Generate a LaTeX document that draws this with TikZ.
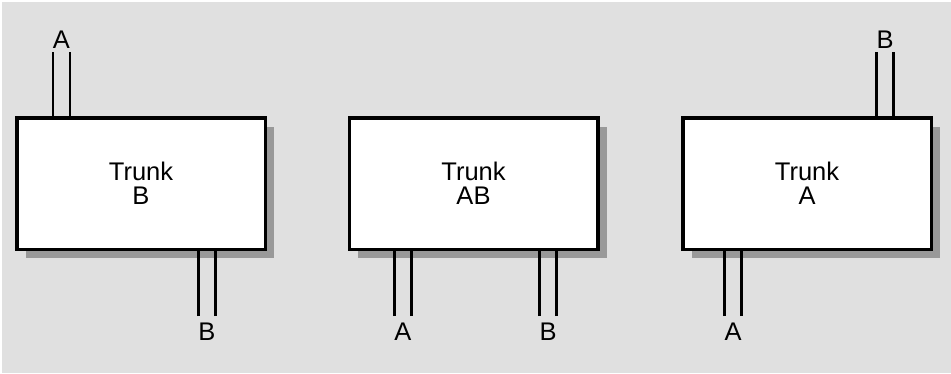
\documentclass[tikz,border=0pt]{standalone}
\usepackage{fontspec}
\setmainfont{Liberation Sans}
\usetikzlibrary{calc,shadows}
\definecolor{bggray}{HTML}{E0E0E0}
\definecolor{shadowgray}{HTML}{999999}
\begin{document}
\begin{tikzpicture}[x=1pt,y=-1pt,
  trunk/.style={draw=black, line width=3.5pt, fill=white,
    minimum width=248.5pt, minimum height=131.5pt, inner sep=0pt,
    align=center, font=\fontsize{25.5}{23.5}\selectfont,
    drop shadow={shadow xshift=9pt, shadow yshift=-9pt, fill=shadowgray, opacity=1}},
  lbl/.style={font=\fontsize{25.5}{30}\selectfont, inner sep=0pt, anchor=base},
  wire/.style={line width=2.5pt}]
\useasboundingbox (0,0) rectangle (951,373);
\fill[bggray] (1.5,1.5) rectangle (951,373);

% box centres
\coordinate (c1) at (141,183.5);
\coordinate (c2) at (473.5,183.5);
\coordinate (c3) at (807,183.5);

% labels
\node[lbl] (lA1) at (61.5,48.3) {A};
\node[lbl] (lB1) at (207,340) {B};
\node[lbl] (lA2) at (403,340) {A};
\node[lbl] (lB2) at (548,340) {B};
\node[lbl] (lB3) at (885,48.3) {B};
\node[lbl] (lA3) at (733,340) {A};

% wire end points near labels
\coordinate (w1) at (61.5,52);
\coordinate (w2) at (207,316);
\coordinate (w3) at (403,316);
\coordinate (w4) at (548,316);
\coordinate (w5) at (885,52);
\coordinate (w6) at (733,316);

\node[trunk] (b1) at (c1) {Trunk\\B};
\node[trunk] (b2) at (c2) {Trunk\\AB};
\node[trunk] (b3) at (c3) {Trunk\\A};

\foreach \w/\b/\s in {w1/b1/north, w2/b1/south, w3/b2/south, w4/b2/south, w5/b3/north, w6/b3/south}{
  \draw[wire] ($(\w)+(-8.3,0)$) -- ($(\w |- \b.\s)+(-8.3,0)$);
  \draw[wire] ($(\w)+(8.3,0)$) -- ($(\w |- \b.\s)+(8.3,0)$);
}
\end{tikzpicture}
\end{document}
